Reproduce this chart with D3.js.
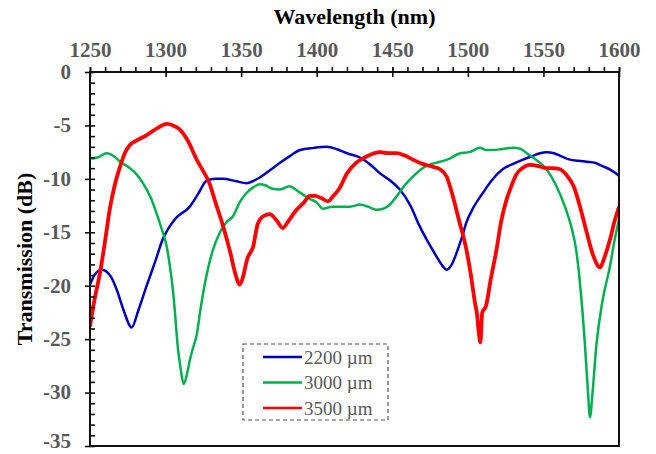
<!DOCTYPE html>
<html>
<head>
<meta charset="utf-8">
<script src="https://cdn.jsdelivr.net/npm/d3@7"></script>
<style>
  body { margin: 0; background: #fff; }
  svg { display: block; font-family: "Liberation Serif", "Times New Roman", serif; }
</style>
</head>
<body>
<script>
// wavelength (nm) / transmission (dB)
const wl2200 = [1250, 1253, 1258, 1264, 1268, 1272, 1277.6, 1282, 1287.5, 1293, 1298, 1306, 1316, 1322, 1327, 1333, 1338, 1346, 1353.7, 1358, 1362, 1369, 1375.7, 1382, 1389, 1398, 1406.6, 1413, 1420, 1428.6, 1435, 1442, 1449, 1455, 1462, 1468, 1474, 1479, 1483, 1486, 1489, 1492.6, 1496, 1499, 1504, 1510, 1516, 1523, 1530, 1536.5, 1542, 1547.7, 1552, 1557, 1562, 1567.6, 1573, 1578.6, 1584, 1589, 1595, 1600]
const t2200 = [-19.9, -19.0, -18.5, -19.2, -20.5, -22.2, -23.9, -22.3, -20, -17.8, -15.7, -13.8, -12.6, -11.3, -10.2, -10.0, -10.0, -10.2, -10.4, -10.2, -9.9, -9.2, -8.5, -7.9, -7.3, -7.1, -7.0, -7.2, -7.6, -8.0, -8.6, -9.5, -10.2, -11, -12.5, -14.4, -16, -17.2, -18.1, -18.5, -18.1, -16.9, -15.5, -14.1, -12.6, -11.3, -10.1, -9.1, -8.6, -8.2, -7.9, -7.6, -7.5, -7.6, -7.9, -8.2, -8.3, -8.4, -8.5, -8.8, -9.2, -9.7]

const wl3000 = [1250, 1255, 1261, 1266, 1270, 1276.5, 1281, 1285, 1290, 1294, 1297.5, 1300.7, 1303, 1305, 1306.5, 1308, 1310, 1312, 1314, 1316, 1318, 1320.6, 1323, 1327, 1331, 1336, 1340, 1344.6, 1349, 1353.7, 1358, 1362.5, 1366, 1370, 1375.7, 1382, 1388, 1395.6, 1400, 1404, 1410, 1415, 1422, 1428.6, 1434, 1439.7, 1444, 1448.5, 1453, 1459.5, 1465, 1470, 1476, 1481.6, 1488, 1494.8, 1501, 1508, 1512, 1516.6, 1523, 1530, 1535, 1539, 1545, 1552, 1558, 1565, 1569, 1571.6, 1574, 1577.5, 1579.5, 1580.8, 1582.5, 1585, 1589, 1594, 1597, 1600]
const t3000 = [-8.1, -8.0, -7.6, -7.9, -8.4, -9.0, -9.6, -10.4, -11.7, -13.2, -14.7, -16.3, -18.3, -20.6, -23, -25.6, -27.8, -29.2, -28.4, -27.0, -25.9, -24.6, -22.3, -19.1, -16.8, -15.0, -14.1, -13.5, -12.2, -11.3, -10.8, -10.5, -10.6, -10.9, -11.0, -10.7, -11.2, -11.9, -12.2, -12.8, -12.6, -12.6, -12.6, -12.4, -12.6, -12.9, -12.8, -12.4, -11.6, -10.4, -9.6, -9.0, -8.6, -8.4, -8.1, -7.6, -7.5, -7.1, -7.3, -7.3, -7.2, -7.1, -7.2, -7.6, -8.2, -9.1, -10.5, -12.9, -14.8, -16.6, -19.5, -25.6, -30, -32.3, -30, -25.6, -21.5, -18.2, -15.8, -13.8]

const wl3500 = [1250, 1253, 1256.6, 1260, 1263, 1266.5, 1270, 1273, 1276.5, 1281, 1287.5, 1294, 1300.7, 1305, 1309.5, 1315, 1320.6, 1325, 1329, 1333, 1338, 1343, 1346, 1349, 1351, 1354, 1358, 1361, 1364.6, 1369, 1373, 1377.7, 1381, 1386.7, 1391, 1395.6, 1399, 1403, 1407.5, 1411, 1415, 1420, 1426, 1433, 1442, 1447, 1453, 1458, 1463.7, 1470, 1475, 1481.6, 1486, 1490, 1494, 1499, 1502, 1504.7, 1506, 1507.3, 1508.3, 1509.5, 1512, 1515, 1519, 1522, 1525.7, 1529, 1532, 1536, 1541, 1546.7, 1552, 1556, 1561, 1565, 1570, 1574, 1578.6, 1583, 1587.5, 1590, 1594, 1597, 1600]
const t3500 = [-23.8, -21.3, -18.8, -15.8, -12.9, -10.5, -8.8, -7.6, -6.8, -6.4, -5.9, -5.3, -4.85, -5.0, -5.4, -6.5, -8.2, -9.3, -10.4, -12.2, -14.4, -17.0, -18.8, -19.9, -19.3, -17.5, -16.3, -14.2, -13.5, -13.3, -13.8, -14.6, -14.0, -12.9, -12.3, -11.6, -11.6, -11.8, -12.1, -11.6, -10.9, -9.5, -8.5, -7.9, -7.5, -7.6, -7.6, -7.8, -8.2, -8.6, -8.8, -9.1, -9.8, -11.6, -13.8, -16.6, -19.0, -21.6, -22.6, -24.5, -25.3, -22.5, -21.9, -19.5, -16.6, -14.0, -11.9, -10.6, -9.6, -9.0, -8.7, -8.8, -9.0, -9.0, -9.1, -9.6, -10.7, -12.5, -15, -17.2, -18.3, -17.5, -15.7, -14.0, -12.6]

const seriesNames = ['2200 \u00b5m', '3000 \u00b5m', '3500 \u00b5m']
const xTicks = [1250, 1300, 1350, 1400, 1450, 1500, 1550, 1600]
const yTicks = [0, -5, -10, -15, -20, -25, -30, -35]

const width = 656
const height = 454
const margin = { top: 72, right: 37, bottom: 8, left: 90 }
const innerW = width - margin.left - margin.right
const innerH = height - margin.top - margin.bottom

const series = [
  { name: seriesNames[0], color: '#0000c0', w: 2.5, pts: wl2200.map((d, i) => [d, t2200[i]]) },
  { name: seriesNames[1], color: '#00b050', w: 2.5, pts: wl3000.map((d, i) => [d, t3000[i]]) },
  { name: seriesNames[2], color: '#ff0000', w: 3.8, pts: wl3500.map((d, i) => [d, t3500[i]]) }
]

const svg = d3.select('body')
  .append('svg')
  .attr('width', width)
  .attr('height', height)

const x = d3.scaleLinear().domain([1250, 1600]).range([0, innerW])
const y = d3.scaleLinear().domain([0, -35]).range([0, innerH])

const g = svg.append('g')
  .attr('transform', `translate(${margin.left}, ${margin.top})`)

// curves
const line = d3.line()
  .x(d => x(d[0]))
  .y(d => y(d[1]))
  .curve(d3.curveMonotoneX)

g.append('defs').append('clipPath').attr('id', 'clip')
  .append('rect').attr('width', innerW).attr('height', innerH)

g.append('g').attr('clip-path', 'url(#clip)')
  .selectAll('path')
  .data(series)
  .enter()
  .append('path')
  .attr('d', d => line(d.pts))
  .attr('fill', 'none')
  .attr('stroke', d => d.color)
  .attr('stroke-width', d => d.w)
  .attr('stroke-linejoin', 'round')

// frame
g.append('rect')
  .attr('width', innerW)
  .attr('height', innerH)
  .attr('fill', 'none')
  .attr('stroke', '#111')
  .attr('stroke-width', 2)

const minorX = d3.range(1250, 1601, 10)
const minorY = d3.range(0, -36, -1)

// top axis: minor ticks outward, major ticks crossing
g.append('g')
  .call(d3.axisTop(x).tickValues(minorX).tickSize(5).tickFormat(''))
g.append('g')
  .call(d3.axisBottom(x).tickValues(xTicks).tickSize(5).tickFormat(''))
g.append('g')
  .call(d3.axisTop(x).tickValues(xTicks).tickSize(5).tickPadding(10).tickFormat(d => d))

// left axis: minor ticks inward, major ticks crossing
g.append('g')
  .call(d3.axisRight(y).tickValues(minorY).tickSize(5).tickFormat(''))
const yAxis = g.append('g')
  .call(d3.axisLeft(y).tickValues(yTicks).tickSize(5).tickPadding(14).tickFormat(d => d))

g.selectAll('.domain').remove()
g.selectAll('.tick line').attr('stroke', '#111').attr('stroke-width', 1.6)
g.selectAll('.tick text')
  .attr('font-family', '"Liberation Serif", serif')
  .attr('font-size', 21)
  .attr('font-weight', 'bold')
  .attr('fill', '#595959')
yAxis.selectAll('.tick text').attr('dy', '0.3em')
// lowest label sits a little higher so it stays inside the picture
yAxis.selectAll('.tick text').filter(d => d === -35).attr('dy', '0.08em')

// titles
svg.append('text')
  .attr('x', margin.left + innerW / 2)
  .attr('y', 24)
  .attr('text-anchor', 'middle')
  .attr('font-size', 22)
  .attr('font-weight', 'bold')
  .text('Wavelength (nm)')

svg.append('text')
  .attr('transform', `translate(32, ${margin.top + innerH / 2}) rotate(-90)`)
  .attr('text-anchor', 'middle')
  .attr('font-size', 22)
  .attr('font-weight', 'bold')
  .text('Transmission (dB)')

// legend
const legend = svg.append('g').attr('transform', 'translate(243, 344)')
legend.append('rect')
  .attr('width', 145)
  .attr('height', 76)
  .attr('fill', '#fff')
  .attr('stroke', '#555')
  .attr('stroke-width', 1.2)
  .attr('stroke-dasharray', '4,3')

const item = legend.selectAll('g.item')
  .data(series)
  .enter()
  .append('g')
  .attr('class', 'item')
  .attr('transform', (d, i) => `translate(0, ${13 + i * 25.5})`)

item.append('line')
  .attr('x1', 20).attr('x2', 59)
  .attr('stroke', d => d.color)
  .attr('stroke-width', 2.6)

item.append('text')
  .attr('x', 61)
  .attr('dy', '0.35em')
  .attr('font-size', 19)
  .attr('fill', '#595959')
  .text(d => d.name)
</script>
</body>
</html>
